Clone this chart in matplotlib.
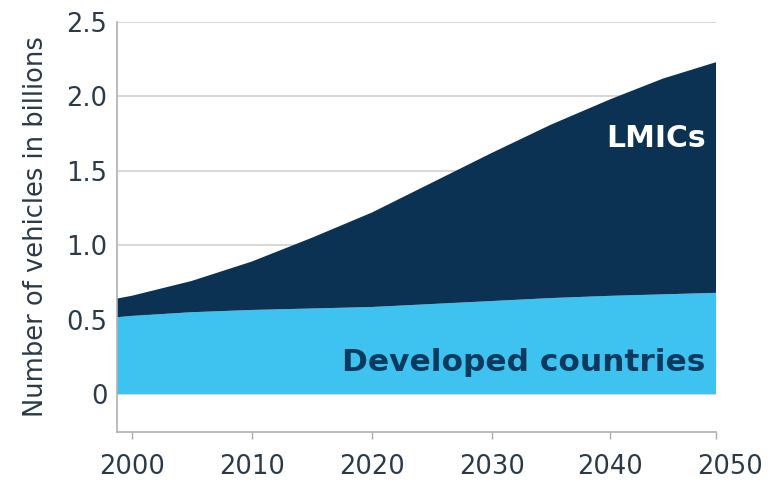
import numpy as np
import matplotlib
matplotlib.use("Agg")
import matplotlib.pyplot as plt
import matplotlib.transforms as mtransforms

# values, billions of vehicles
years = [1998, 2000, 2005, 2010, 2015, 2020, 2025, 2030, 2035, 2040, 2045, 2050]
developed = [0.51, 0.525, 0.55, 0.565, 0.575, 0.585, 0.605, 0.625, 0.645, 0.66, 0.67, 0.68]
total = [0.63, 0.66, 0.76, 0.89, 1.05, 1.22, 1.42, 1.62, 1.81, 1.98, 2.12, 2.23]
lmics = list(np.array(total) - np.array(developed))

xticks = [2000, 2010, 2020, 2030, 2040, 2050]
yticks = [0, 0.5, 1.0, 1.5, 2.0, 2.5]
ylabels = ["0", "0.5", "1.0", "1.5", "2.0", "2.5"]

NAVY = "#0b3253"
SKY = "#3ec3f0"
TXT = "#2c3a48"

# the source axis squeezes the last decade a little
knots_year = [1990, 2000, 2010, 2020, 2030, 2040, 2050, 2060]
knots_pos = [11.7, 131.7, 251.7, 372.0, 491.7, 610.0, 716.0, 822.0]
fwd = lambda v: np.interp(v, knots_year, knots_pos)
inv = lambda p: np.interp(p, knots_pos, knots_year)

plt.rcParams["font.family"] = ["DejaVu Sans"]

fig = plt.figure(figsize=(7.72, 4.82), dpi=100)
ax = fig.add_axes([117 / 772, 1 - 432 / 482, (716 - 117) / 772, (432 - 22) / 482])
ax.set_xscale("function", functions=(fwd, inv))

ax.stackplot(years, developed, lmics, colors=[SKY, NAVY], linewidth=0, zorder=2)

ax.set_xlim(1998.78, 2050)
ax.set_ylim(-0.255, 2.5)

ax.set_yticks(yticks)
ax.set_yticklabels(ylabels)
ax.set_xticks(xticks)
ax.set_xticklabels([str(x) for x in xticks])
ax.minorticks_off()

ax.grid(axis="y", color="#cfcfcf", linewidth=1.2, zorder=0)
ax.tick_params(axis="y", length=0, pad=7, labelsize=18.5, labelcolor=TXT)
ax.tick_params(axis="x", length=5, width=1, color="#aaaaaa", pad=11, labelsize=18.5, labelcolor=TXT)

# in the source the 2050 label sits a bit right of its tick
last = ax.get_xticklabels()[-1]
last.set_transform(last.get_transform() + mtransforms.ScaledTranslation(0.14, 0, fig.dpi_scale_trans))

for s in ["top", "right"]:
    ax.spines[s].set_visible(False)
for s in ["left", "bottom"]:
    ax.spines[s].set_color("#b0b0b0")
    ax.spines[s].set_linewidth(1.2)

ax.set_ylabel("Number of vehicles in billions", fontsize=18.5, color=TXT, labelpad=12)

ax.text(2049, 1.72, "LMICs", color="white", fontsize=21.5, fontweight="bold",
        ha="right", va="center", zorder=3)
ax.text(2049, 0.21, "Developed countries", color="#0c3a5e", fontsize=22.5,
        fontweight="bold", ha="right", va="center", zorder=3)

fig.savefig("out.png", dpi=100)
